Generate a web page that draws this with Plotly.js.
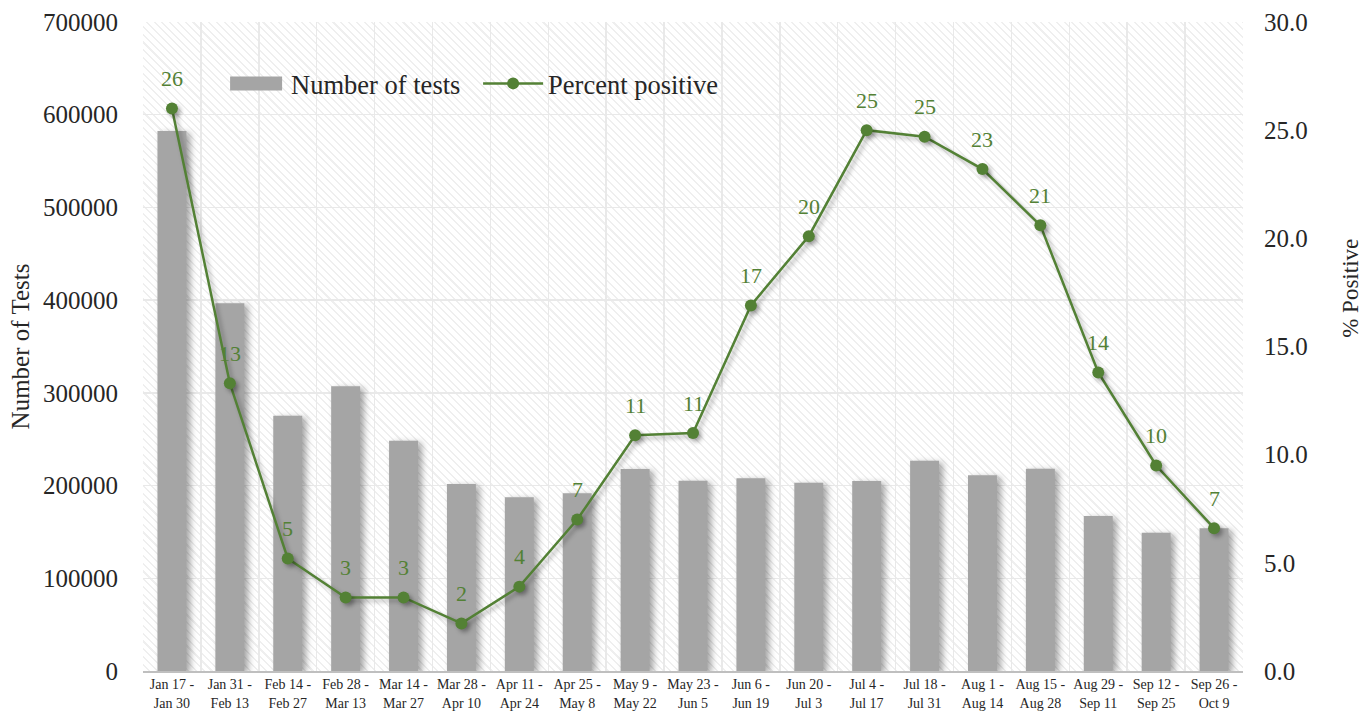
<!DOCTYPE html>
<html>
<head>
<meta charset="utf-8">
<script src="https://cdn.plot.ly/plotly-3.0.1.min.js"></script>
<style>
  html, body { margin: 0; padding: 0; background: #ffffff; }
  #wrap { position: relative; width: 1372px; height: 717px; }
  #hatch {
    position: absolute; left: 143px; top: 22px; width: 1100px; height: 649px;
    background: repeating-linear-gradient(45deg, #ffffff 0px, #ffffff 4px, #efefef 4px, #efefef 5.5px);
  }
  #chart { position: absolute; left: 0; top: 0; width: 1372px; height: 717px; }
  .barlayer .point path { filter: drop-shadow(4px 2px 3px rgba(0,0,0,0.35)); }
  .scatterlayer .trace path.js-line { filter: drop-shadow(3px 3px 2px rgba(0,0,0,0.3)); }
  .scatterlayer .trace .points path { filter: drop-shadow(3px 3px 2px rgba(0,0,0,0.3)); }
</style>
</head>
<body>
<div id="wrap">
  <div id="hatch"></div>
  <div id="chart"></div>
</div>
<script>
const periods = [
  "Jan 17 -<br>Jan 30", "Jan 31 -<br>Feb 13", "Feb 14 -<br>Feb 27", "Feb 28 -<br>Mar 13",
  "Mar 14 -<br>Mar 27", "Mar 28 -<br>Apr 10", "Apr 11 -<br>Apr 24", "Apr 25 -<br>May 8",
  "May 9 -<br>May 22", "May 23 -<br>Jun 5", "Jun 6 -<br>Jun 19", "Jun 20 -<br>Jul 3",
  "Jul 4 -<br>Jul 17", "Jul 18 -<br>Jul 31", "Aug 1 -<br>Aug 14", "Aug 15 -<br>Aug 28",
  "Aug 29 -<br>Sep 11", "Sep 12 -<br>Sep 25", "Sep 26 -<br>Oct 9"
];
const numberOfTests = [
  582500, 396700, 275400, 307100, 248300, 201700, 187400, 191700, 217900, 205300,
  207900, 203100, 205000, 226900, 211100, 218200, 167200, 149200, 153900
];
const percentPositive = [
  26.0, 13.3, 5.2, 3.4, 3.4, 2.2, 3.9, 7.0, 10.9, 11.0,
  16.9, 20.1, 25.0, 24.7, 23.2, 20.6, 13.8, 9.5, 6.6
];
const leftTicks = [0, 100000, 200000, 300000, 400000, 500000, 600000, 700000];
const rightTicks = [0, 5, 10, 15, 20, 25, 30];

const FONT = "Liberation Serif";
const GREEN = "#538135";
const TXT = "#262626";

const traces = [
  {
    type: "bar",
    name: "Number of tests",
    x: periods,
    y: numberOfTests,
    marker: { color: "#a5a5a5" },
    yaxis: "y"
  },
  {
    type: "scatter",
    mode: "lines+markers",
    name: "Percent positive",
    x: periods,
    y: percentPositive,
    yaxis: "y2",
    line: { color: GREEN, width: 2.5 },
    marker: { color: GREEN, size: 12 }
  }
];

const annotations = percentPositive.map((v, i) => ({
  x: periods[i], y: v, xref: "x", yref: "y2",
  text: String(Math.round(v)),
  showarrow: false, yshift: 30,
  font: { family: FONT, size: 22, color: GREEN }
}));
annotations.push({
  xref: "paper", yref: "paper", x: 1.097, y: 0.59,
  xanchor: "center", yanchor: "middle", textangle: -90, showarrow: false,
  text: "% Positive", font: { family: FONT, size: 23, color: TXT }
});

const layout = {
  width: 1372, height: 717,
  margin: { l: 143, r: 129, t: 22, b: 46 },
  paper_bgcolor: "rgba(0,0,0,0)",
  plot_bgcolor: "rgba(0,0,0,0)",
  font: { family: FONT, color: TXT },
  bargap: 0.5,
  showlegend: true,
  legend: {
    orientation: "h", x: 0.071, xanchor: "left", y: 0.905, yanchor: "middle",
    bgcolor: "rgba(0,0,0,0)", font: { family: FONT, size: 26.5, color: TXT },
    itemwidth: 60, entrywidth: 182
  },
  xaxis: {
    type: "category",
    range: [-0.5, periods.length - 0.5],
    tickson: "boundaries",
    showgrid: true, gridcolor: "#e9e9e9", gridwidth: 1.5,
    showline: true, linecolor: "#bfbfbf", linewidth: 1.5,
    ticks: "", tickfont: { family: FONT, size: 14, color: TXT },
    tickangle: 0
  },
  yaxis: {
    range: [0, 700000], tickvals: leftTicks, tickformat: "d",
    showgrid: true, gridcolor: "#e9e9e9", gridwidth: 1.5, zeroline: false,
    tickfont: { family: FONT, size: 25, color: TXT },
    ticklabelstandoff: 24,
    title: { text: "Number of Tests", font: { family: FONT, size: 25, color: TXT }, standoff: 6 }
  },
  yaxis2: {
    range: [0, 30], tickvals: rightTicks, tickformat: ".1f",
    overlaying: "y", side: "right", showgrid: false, zeroline: false,
    tickfont: { family: FONT, size: 25, color: TXT },
    ticklabelstandoff: 20
  },
  annotations: annotations
};

Plotly.newPlot("chart", traces, layout, { displayModeBar: false, staticPlot: true }).then(function (gd) {
  const items = gd.querySelectorAll(".legend .traces");
  if (items.length) {
    const p = items[0].querySelector(".legendpoints path");
    if (p) p.setAttribute("d", "M-26,-7H26V7H-26Z");
  }
});
</script>
</body>
</html>
